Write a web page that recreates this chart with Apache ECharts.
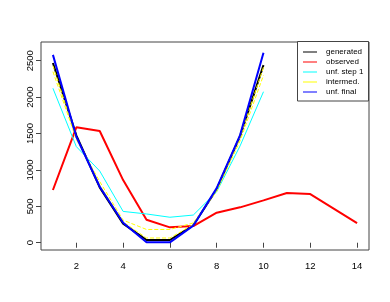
<!DOCTYPE html>
<html><head><meta charset="utf-8">
<script src="https://cdn.jsdelivr.net/npm/echarts@6/dist/echarts.min.js"></script>
<style>html,body{margin:0;padding:0;background:#fff}#c{width:390px;height:302px}</style>
</head><body><div id="c"></div>
<script>
var binsMain = [1,2,3,4,5,6,7,8,9,10];
var binsObs = [1,2,3,4,5,6,7,8,9,10,11,12,13,14];
var generated = [2468, 1475, 760, 262, 37, 37, 240, 735, 1465, 2440];
var observed = [724, 1585, 1534, 860, 315, 211, 229, 412, 486, 582, 683, 668, 469, 270];
var unfStep1 = [2121, 1320, 985, 430, 395, 350, 380, 700, 1330, 2074];
var intermedA = [2350, 1420, 840, 310, 182, 182, 272, 705, 1400, 2300];
var intermedB = [2430, 1450, 790, 285, 65, 65, 250, 730, 1450, 2410];
var unfFinal = [2580, 1456, 769, 275, 5, 5, 234, 750, 1479, 2610];
var xTicks = [2,4,6,8,10,12,14];
var yTicks = [0,500,1000,1500,2000,2500];

function pairs(xs, ys){ return xs.map(function(x,i){ return [x, ys[i]]; }); }
var FONT = '"Liberation Sans", Arial, Helvetica, sans-serif';
var chart = echarts.init(document.getElementById('c'), null, {renderer:'canvas'});
function line(name, xs, ys, color, width, type){
  return {type:'line', name:name, data:pairs(xs, ys), symbol:'none', animation:false,
    lineStyle:{color:color, width:width, type:type||'solid'}, itemStyle:{color:color}, z:2};
}
chart.setOption({
  animation:false,
  backgroundColor:'#fff',
  grid:{left:41, right:21, top:42, bottom:52, show:true, borderColor:'#444', borderWidth:1, backgroundColor:'transparent'},
  xAxis:{type:'value', min:0.49, max:14.51,
    axisLine:{show:false}, splitLine:{show:false},
    axisTick:{show:true, customValues:xTicks, length:5, lineStyle:{color:'#444'}},
    axisLabel:{customValues:xTicks, fontSize:9.5, fontFamily:FONT, color:'#000', margin:11,
      formatter:function(v){ return String(v); }}},
  yAxis:{type:'value', min:-100, max:2757,
    axisLine:{show:false}, splitLine:{show:false},
    axisTick:{show:true, customValues:yTicks, length:5, lineStyle:{color:'#444'}},
    axisLabel:{customValues:yTicks, rotate:90, fontSize:9.5, fontFamily:FONT, color:'#000', margin:6,
      formatter:function(v){ return String(v); }}},
  legend:{orient:'vertical', left:303, top:47, padding:0, itemGap:0, itemWidth:14, itemHeight:1, icon:'rect',
    textStyle:{fontSize:8, fontFamily:FONT, color:'#000', lineHeight:10, padding:[0,0,0,4]},
    data:['generated','observed','unf. step 1','intermed.','unf. final']},
  graphic:[{type:'rect', shape:{x:297.5, y:41.5, width:71, height:59.5}, style:{fill:'#fff', stroke:'#444', lineWidth:1}, z:3}],
  series:[
    line('generated', binsMain, generated, '#000000', 2),
    line('observed', binsObs, observed, '#ff0000', 2),
    line('unf. step 1', binsMain, unfStep1, '#00ffff', 1),
    line('intermed.', binsMain, intermedA, '#ffff00', 1, 'dashed'),
    line('intermed.', binsMain, intermedB, '#ffff00', 1, 'dashed'),
    line('unf. final', binsMain, unfFinal, '#0000ff', 2)
  ]
});
</script></body></html>
